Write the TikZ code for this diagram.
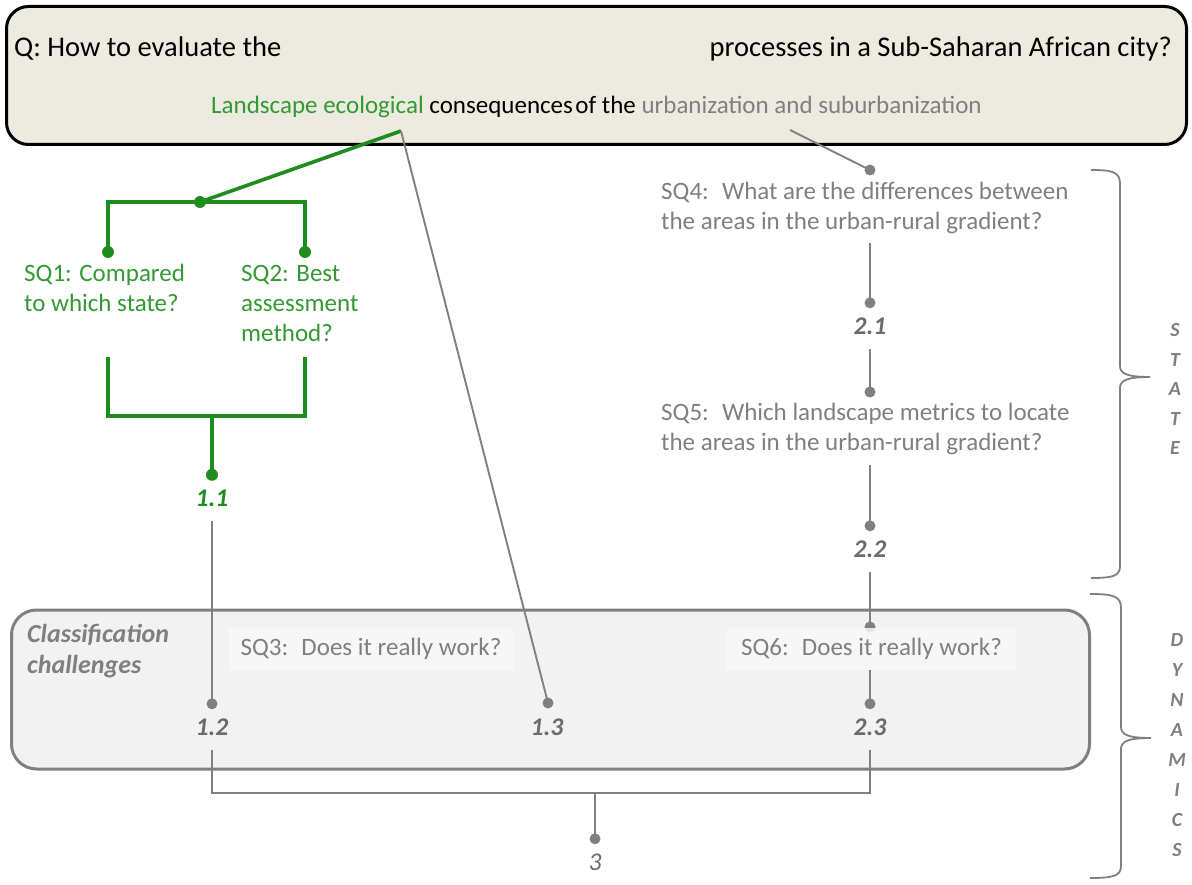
\documentclass[tikz,border=0pt]{standalone}
\usepackage{fontspec}
\setmainfont{Carlito}
\definecolor{beige}{HTML}{EDEBE0}
\definecolor{lgreen}{HTML}{1E8C1E}
\definecolor{tgreen}{HTML}{339933}
\definecolor{lgray}{HTML}{808080}
\definecolor{tgray}{HTML}{7F7F7F}
\definecolor{ngray}{HTML}{6B6B6B}
\definecolor{boxfill}{HTML}{F2F2F2}
\definecolor{sqfill}{HTML}{F9F9F9}
\begin{document}
\begin{tikzpicture}[x=1pt,y=-1pt,
  gline/.style={draw=lgreen,line width=3.6},
  rline/.style={draw=lgray,line width=1.9},
  gdot/.style={circle,fill=lgreen,inner sep=0,minimum size=12},
  rdot/.style={circle,fill=lgray,inner sep=0,minimum size=11},
  qtext/.style={font=\fontsize{28.5}{34}\selectfont,inner sep=0,text=black},
  sqtext/.style={font=\fontsize{25}{30}\selectfont,inner sep=0,align=left,anchor=north west},
  num/.style={font=\fontsize{25.5}{30}\selectfont\bfseries\itshape,text=ngray,text height=17,text depth=0,inner xsep=2,inner ysep=14.5},
  sqbox/.style={fill=sqfill,fill opacity=0.85,text opacity=1,minimum height=42,inner sep=0,font=\fontsize{25}{30}\selectfont,text=tgray},
  brace/.style={draw=lgray,line width=1.8}
]
\useasboundingbox (0,0) rectangle (1192,885);
% main question box
\node[draw=black,line width=3,fill=beige,rounded corners=22,minimum width=1180,minimum height=138] (mainbox) at (596.5,75.5) {};
\node[qtext,anchor=base west] (q1) at (14,57) {Q: How to evaluate the};
\node[qtext,anchor=base east] (q2) at (1172,57) {processes in a Sub-Saharan African city?};
\node[font=\fontsize{25}{30}\selectfont,inner sep=0,anchor=base west] (q3) at (211,114)
  {\textcolor{tgreen}{Landscape ecological} consequences\hspace{0.1em}of the \textcolor{tgray}{urbanization and suburbanization}};
% dynamics box
\node[draw=lgray,line width=3,fill=boxfill,rounded corners=25,minimum width=1078,minimum height=159] (classbox) at (550.5,689.5) {};
\node[font=\fontsize{26}{31}\selectfont\bfseries\itshape,text=tgray,inner sep=0,align=left,anchor=base west] (cc) at (27,673) {Classification\\challenges};
% junction coordinates
\coordinate (j0) at (401,131);
\coordinate (ju) at (790,130);
% number nodes
\node[num,text=lgreen] (n11) at (212,498) {1.1};
\node[num] (n12) at (212,727) {1.2};
\node[num] (n13) at (547,727) {1.3};
\node[num] (n21) at (870,326) {2.1};
\node[num] (n22) at (870,549) {2.2};
\node[num] (n23) at (870,727) {2.3};
\node[num,font=\fontsize{25.5}{30}\selectfont\itshape] (n3) at (595,862) {3};
% green part
\node[gdot] (gd0) at (200,202) {};
\node[gdot] (gd1) at (108,252) {};
\node[gdot] (gd2) at (305,252) {};
\node[gdot] (gd3) at (n11.north) {};
\draw[gline] (j0) -- (gd0.center);
\draw[gline] (gd1.center) |- (gd0.center) -| (gd2.center);
\node[sqtext,text=tgreen] (sq1) at (24,260) {\strut SQ1: Compared\\to which state?};
\node[sqtext,text=tgreen] (sq2) at (241,260) {\strut SQ2: Best\\assessment\\method?};
\coordinate (gb1) at (108,357);
\coordinate (gb2) at (305,357);
\coordinate (gbm) at (212,416);
\draw[gline] (gb1) |- (gbm) -| (gb2);
\draw[gline] (gbm) -- (gd3.center);
% gray lines left/middle
\node[rdot] (d12) at (n12.north) {};
\node[rdot] (d13) at (548,703) {};
\draw[rline] (n11.south) -- (d12.center);
\draw[rline] (j0) -- (d13.center);
% right column
\node[rdot] (d4) at (870,170) {};
\draw[rline] (ju) -- (d4.center);
\node[sqtext,text=tgray] (sq4) at (661,178) {\strut SQ4:~ What are the differences between\\the areas in the urban-rural gradient?};
\coordinate (c4) at (870,243);
\node[rdot] (d21) at (n21.north) {};
\draw[rline] (c4) -- (d21.center);
\node[rdot] (d5) at (870,392) {};
\draw[rline] (n21.south) -- (d5.center);
\node[sqtext,text=tgray] (sq5) at (661,399) {\strut SQ5:~ Which landscape metrics to locate\\the areas in the urban-rural gradient?};
\coordinate (c5) at (870,465);
\node[rdot] (d22) at (n22.north) {};
\draw[rline] (c5) -- (d22.center);
\node[rdot] (d6) at (870,627) {};
\draw[rline] (n22.south) -- (d6.center);
\node[rdot] (d23) at (n23.north) {};
% sub-question boxes
\node[sqbox,minimum width=284] (sq3) at (371,649) {SQ3:~ Does it really work?};
\node[sqbox,minimum width=289] (sq6) at (871.5,649) {SQ6:~ Does it really work?};
\draw[rline] (sq6.south -| d23) -- (d23.center);
% bottom join
\coordinate (bj) at (595,793);
\node[rdot] (d3) at (n3.north) {};
\draw[rline] (n12.south) |- (bj) -| (n23.south);
\draw[rline] (bj) -- (d3.center);
% braces
\draw[brace] (1091,170) .. controls (1113,170) and (1120,172) .. (1120,184) -- (1120,366)
  .. controls (1120,374) and (1128,377) .. (1150,377)
  .. controls (1128,377) and (1120,380) .. (1120,388) -- (1120,566)
  .. controls (1120,576) and (1113,578) .. (1091,578);
\draw[brace] (1090,594) .. controls (1113,594) and (1121,596) .. (1121,608) -- (1121,727)
  .. controls (1121,735) and (1129,738) .. (1151,738)
  .. controls (1129,738) and (1121,741) .. (1121,749) -- (1121,866)
  .. controls (1121,876) and (1113,878) .. (1090,878);
\node[inner sep=0,text=tgray,align=center,font=\fontsize{20}{29.5}\selectfont\bfseries\itshape] (state) at (1175,389) {S\\T\\A\\T\\E};
\node[inner sep=0,text=tgray,align=center,font=\fontsize{20}{30}\selectfont\bfseries\itshape] (dyn) at (1177,745) {D\\Y\\N\\A\\M\\I\\C\\S};
\end{tikzpicture}
\end{document}
